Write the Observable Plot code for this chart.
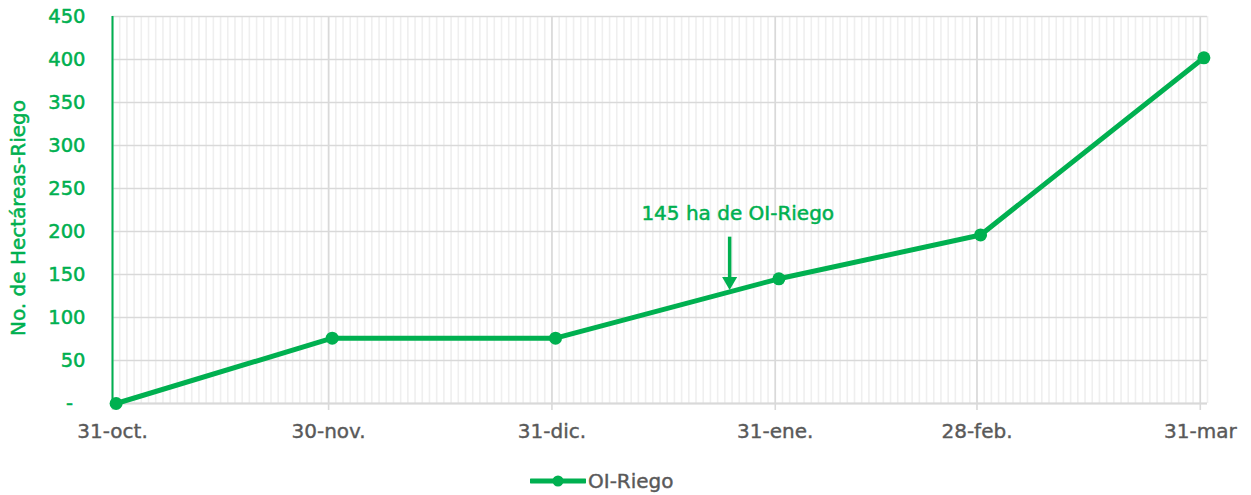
<!DOCTYPE html>
<html><head><meta charset="utf-8">
<script src="https://cdn.jsdelivr.net/npm/d3@7"></script>
<script src="https://cdn.jsdelivr.net/npm/@observablehq/plot@0.6"></script>
<style>
body{margin:0;background:#fff;font-family:"DejaVu Sans",sans-serif}
#legend{display:flex;align-items:center;height:40px;margin-top:6px;padding-left:530px;font-size:20px;color:#595959;-webkit-text-stroke:0.4px #595959}
</style>
</head><body><div id="chart"></div>
<div id="legend"></div>
<script>
// ---- data ----
const fechas = ["2022-10-31","2022-11-30","2022-12-31","2023-01-31","2023-02-28","2023-03-31"];
const etiquetas = ["31-oct.","30-nov.","31-dic.","31-ene.","28-feb.","31-mar"];
const hectareas = [0, 76, 76, 145, 196, 402];
const serie = "OI-Riego";
const yTicks = [0, 50, 100, 150, 200, 250, 300, 350, 400, 450];
const yTitulo = "No. de Hectáreas-Riego";
const notaTexto = ["145 ha de OI-Riego"];
const notaFecha = ["2023-01-25T19:00Z"];
const notaValor = [221];
const flechaFecha = ["2023-01-24T16:00Z"];
const flechaDesde = [194];
const flechaHasta = [146];
const flechaPunta = [142];

const verde = "#00B050";
const gris = "#595959";
const dia = 24*3600*1000;
const fechaD = fechas.map(f => new Date(f + "T00:00Z"));
const data = fechaD.map((d, i) => ({fecha: new Date(+d + dia/2), valor: hectareas[i]}));
const inicio = fechaD[0];
const fin = new Date(+fechaD[fechaD.length-1] + dia);
const dias = d3.utcDay.range(inicio, new Date(+fin + 1));

const chart = Plot.plot({
  width: 1251, height: 455,
  marginLeft: 112, marginRight: 44, marginTop: 16, marginBottom: 52,
  style: {fontFamily: '"DejaVu Sans", sans-serif', background: "#fff", overflow: "visible"},
  x: {type: "utc", domain: [inicio, fin], axis: null},
  y: {domain: [0, 450], axis: null},
  marks: [
    Plot.gridX(dias, {stroke: "#efefef", strokeOpacity: 1, strokeWidth: 1.6}),
    Plot.gridX(fechaD, {stroke: "#d9d9d9", strokeOpacity: 1, strokeWidth: 1.6}),
    Plot.gridY(yTicks, {stroke: "#d9d9d9", strokeOpacity: 1, strokeWidth: 1.6}),
    Plot.ruleY([0], {stroke: "#d9d9d9", strokeWidth: 2}),
    Plot.ruleX([inicio], {stroke: verde, strokeWidth: 2}),
    Plot.axisX(fechaD, {
      tickSize: 7, tickPadding: 13, fontSize: 20, stroke: "#d9d9d9", strokeWidth: 1.6, fill: gris,
      textStroke: gris, textStrokeWidth: 0.4, textStrokeOpacity: 1,
      tickFormat: d => etiquetas[fechaD.findIndex(f => +f === +d)], label: null
    }),
    Plot.axisY(yTicks, {
      tickSize: 0, tickPadding: 27, fontSize: 19.5, fill: verde,
      textStroke: verde, textStrokeWidth: 0.5, textStrokeOpacity: 1,
      tickFormat: d => d === 0 ? "-\u00a0\u00a0" : String(d), label: null
    }),
    Plot.text([yTitulo], {frameAnchor: "left", textAnchor: "middle", dx: -94, dy: 8, rotate: -90, fontSize: 20, fill: verde, stroke: verde, strokeWidth: 0.5}),
    Plot.line(data, {x: "fecha", y: "valor", stroke: verde, strokeWidth: 5, strokeLinejoin: "round"}),
    Plot.dot(data, {x: "fecha", y: "valor", r: 6.5, fill: verde}),
    Plot.link(flechaFecha, {x1: d => new Date(d), x2: d => new Date(d), y1: (d,i) => flechaDesde[i], y2: (d,i) => flechaHasta[i], stroke: verde, strokeWidth: 3.5}),
    Plot.dot(flechaFecha, {x: d => new Date(d), y: (d,i) => flechaPunta[i], symbol: "triangle", r: 5.6, rotate: 180, fill: verde}),
    Plot.text(notaTexto, {x: (d,i) => new Date(notaFecha[i]), y: (d,i) => notaValor[i], text: d => d, fontSize: 20, fill: verde, stroke: verde, strokeWidth: 0.5})
  ]
});
document.getElementById("chart").appendChild(chart);

const lg = document.getElementById("legend");
lg.innerHTML = `<svg width="56" height="20" style="margin-right:2px"><line x1="1" y1="10" x2="55" y2="10" stroke="${verde}" stroke-width="5" stroke-linecap="round"/><circle cx="28" cy="10" r="5.5" fill="${verde}"/></svg><span>${serie}</span>`;
</script>
</body></html>
